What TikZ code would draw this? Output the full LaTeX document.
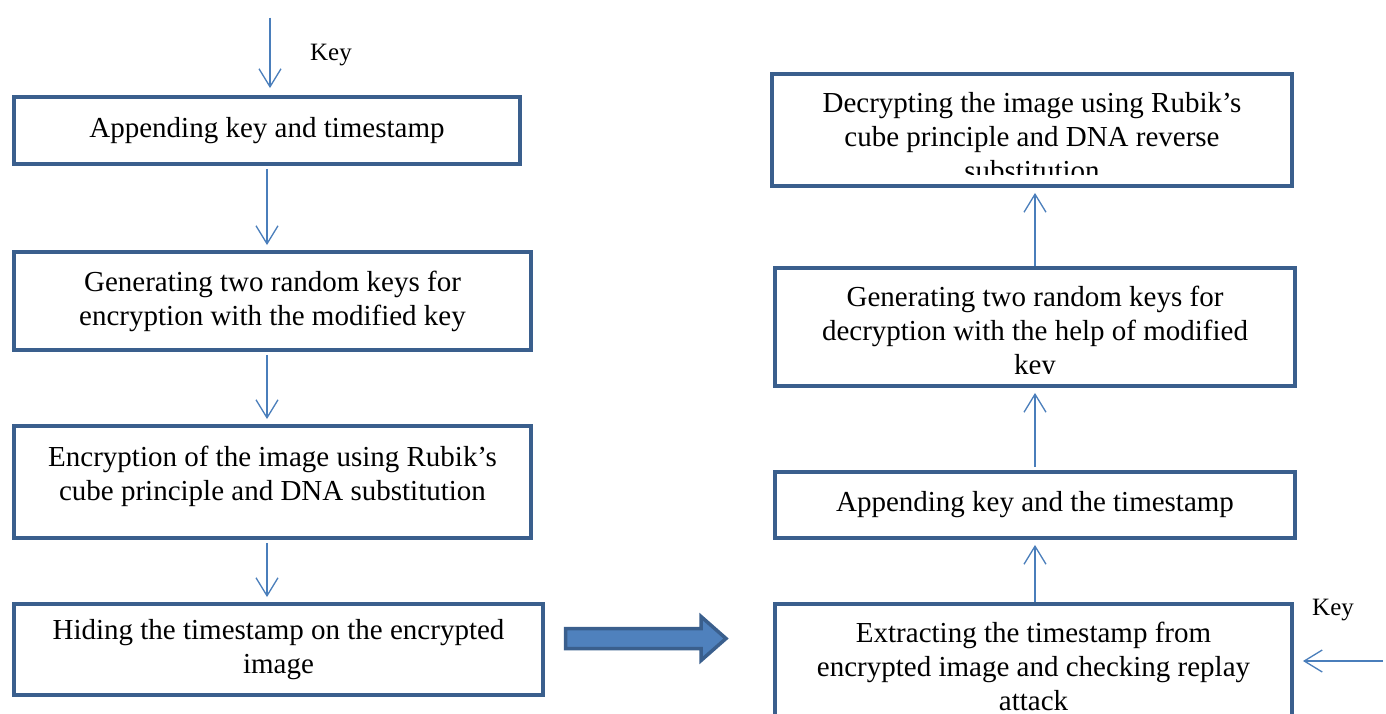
\documentclass[tikz,border=0pt]{standalone}
\usepackage{fontspec}
\setmainfont{Liberation Serif}
\usepackage{tikz}
\usetikzlibrary{arrows.meta}

\definecolor{boxblue}{HTML}{3A5F8D}
\definecolor{lineblue}{HTML}{4A7EBB}
\definecolor{fillblue}{HTML}{4F81BD}
\newcommand{\boxfont}{\fontsize{16.5}{19.4}\selectfont}
\newcommand{\keyfont}{\fontsize{14.2}{17}\selectfont}

\begin{document}
\begin{tikzpicture}[
    box/.style={draw=boxblue, line width=2.8pt, align=center, font=\boxfont, inner sep=0pt},
    boxtext/.style={align=center, font=\boxfont, inner sep=0pt, anchor=north},
    flow/.style={draw=lineblue, line width=0.75pt, -{Straight Barb[length=0.36cm,width=0.44cm]},
      shorten >=0.09cm, shorten <=0.05cm},
    keylabel/.style={font=\keyfont, inner sep=0pt},
    bigarrow/.style={draw=boxblue, line width=2pt, fill=fillblue, line join=miter}
  ]
    \clip (0,0) rectangle (27.72,-14.26);

    % encryption side
    \node[box, minimum width=10.12cm, minimum height=1.34cm] (b1) at (5.34,-2.61)
      {Appending key and timestamp};
    \node[box, minimum width=10.34cm, minimum height=1.96cm] (b2) at (5.45,-6.02)
      {Generating two random keys for\\encryption with the modified key};
    \node[box, minimum width=10.34cm, minimum height=2.24cm] (b3) at (5.45,-9.64)
      {Encryption of the image using Rubik’s\\cube principle and DNA substitution\\[-0.32cm]};
    \node[box, minimum width=10.58cm, minimum height=1.82cm] (b4) at (5.57,-12.99)
      {Hiding the timestamp on the encrypted\\image};

    % decryption side, the last line of text is cut by the box
    \node[box, minimum width=10.4cm, minimum height=2.24cm] (r1) at (20.64,-2.6) {};
    \node[box, minimum width=10.4cm, minimum height=2.36cm] (r2) at (20.70,-6.54) {};
    \node[box, minimum width=10.4cm, minimum height=1.32cm] (r3) at (20.70,-10.10)
      {Appending key and the timestamp};
    \node[box, minimum width=10.34cm, minimum height=2.72cm] (r4) at (20.67,-13.44) {};

    \begin{scope}
      \clip ([shift={(2.8pt,0.28cm)}]r1.south west) rectangle ([shift={(-2.8pt,-2.8pt)}]r1.north east);
      \node[boxtext] (r1text) at ([yshift=-0.4cm]r1.north)
        {Decrypting the image using Rubik’s\\cube principle and DNA reverse\\substitution};
    \end{scope}
    \begin{scope}
      \clip ([shift={(2.8pt,0.3cm)}]r2.south west) rectangle ([shift={(-2.8pt,-2.8pt)}]r2.north east);
      \node[boxtext] (r2text) at ([yshift=-0.4cm]r2.north)
        {Generating two random keys for\\decryption with the help of modified\\key};
    \end{scope}
    \begin{scope}
      \clip ([shift={(2.8pt,0.29cm)}]r4.south west) rectangle ([shift={(-2.8pt,-2.8pt)}]r4.north east);
      \node[boxtext] (r4text) at ([yshift=-0.4cm]r4.north)
        {Extracting the timestamp from\\encrypted image and checking replay\\attack};
    \end{scope}

    % key inputs
    \coordinate (keyin) at (5.4,-0.3);
    \coordinate (keyr) at (27.66,-13.22);
    \node[keylabel] (k1) at (6.62,-1.1) {Key};
    \node[keylabel] (k2) at (26.66,-12.2) {Key};

    \draw[flow, shorten >=0.13cm] (keyin) -- (keyin |- b1.north);
    \draw[flow] (b1.south) -- (b2.north -| b1);
    \draw[flow] (b2.south -| b1) -- (b3.north -| b1);
    \draw[flow] (b3.south -| b1) -- (b4.north -| b1);

    \draw[flow, shorten <=0pt, shorten >=0.17cm] (keyr) -- (keyr -| r4.east);
    \draw[flow, shorten <=0pt] (r4.north -| r3) -- (r3.south);
    \draw[flow] (r3.north) -- (r2.south -| r3);
    \draw[flow, shorten <=0pt] (r2.north -| r3) -- (r1.south -| r3);

    % transfer arrow
    \coordinate (tail) at (11.31,-12.77);
    \draw[bigarrow] ([yshift=0.2cm]tail) -- ++(2.71,0) -- ++(0,0.24) -- ++(0.5,-0.44)
      -- ++(-0.5,-0.44) -- ++(0,0.24) -- ++(-2.71,0) -- cycle;
  \end{tikzpicture}
\end{document}
